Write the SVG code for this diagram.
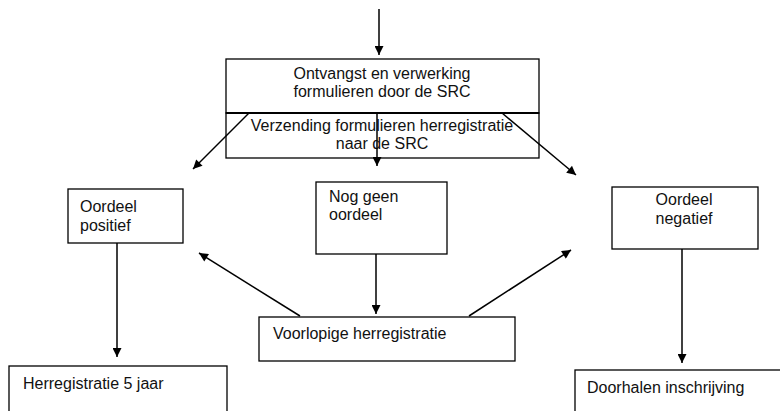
<svg xmlns="http://www.w3.org/2000/svg" width="780" height="411" viewBox="0 0 780 411">
<defs>
<marker id="ah" viewBox="0 0 10 10" refX="10" refY="5" markerWidth="11" markerHeight="9" markerUnits="userSpaceOnUse" orient="auto">
<path d="M0,0 L10,5 L0,10 Z" fill="#000"/>
</marker>
<style>
.box{fill:#fff;stroke:#000;stroke-width:1.3}
.t{font-family:"Liberation Sans",Arial,sans-serif;font-size:16px;fill:#111}
.c{text-anchor:middle}
.ln{stroke:#000;stroke-width:1.5;fill:none;marker-end:url(#ah)}
</style>
</defs>
<rect width="780" height="411" fill="#fff"/>
<g id="n-ontvangst">
<rect class="box" x="226" y="59" width="313" height="54"/>
<text class="t c" x="382" y="79">Ontvangst en verwerking</text>
<text class="t c" x="382" y="97">formulieren door de SRC</text>
</g>
<g id="n-verzending">
<rect class="box" x="226" y="113" width="313" height="45"/>
<line x1="226" y1="113" x2="539" y2="113" stroke="#000" stroke-width="2.2"/>
<text class="t c" x="382" y="131">Verzending formulieren herregistratie</text>
<text class="t c" x="382" y="149">naar de SRC</text>
</g>
<g id="n-positief">
<rect class="box" x="68" y="189" width="115" height="54"/>
<text class="t" x="80" y="212">Oordeel</text>
<text class="t" x="80" y="231">positief</text>
</g>
<g id="n-nog">
<rect class="box" x="316" y="182" width="131" height="72"/>
<text class="t" x="329" y="202">Nog geen</text>
<text class="t" x="329" y="220">oordeel</text>
</g>
<g id="n-negatief">
<rect class="box" x="612" y="187" width="146" height="62"/>
<text class="t c" x="684" y="205">Oordeel</text>
<text class="t c" x="684" y="224">negatief</text>
</g>
<g id="n-voorlopig">
<rect class="box" x="259" y="317" width="256" height="44"/>
<text class="t" x="273" y="339">Voorlopige herregistratie</text>
</g>
<g id="n-herreg5">
<rect class="box" x="9" y="366" width="218" height="60"/>
<text class="t" x="23" y="389">Herregistratie 5 jaar</text>
</g>
<g id="n-doorhalen">
<rect class="box" x="575" y="370" width="220" height="60"/>
<text class="t" x="587" y="393">Doorhalen inschrijving</text>
</g>
<g id="connectors">
<line class="ln" x1="379" y1="9" x2="379" y2="55"/>
<line class="ln" x1="249" y1="113" x2="193" y2="169"/>
<line class="ln" x1="377" y1="113" x2="377" y2="166"/>
<line class="ln" x1="502" y1="113" x2="576" y2="175"/>
<line class="ln" x1="376" y1="254" x2="376" y2="314"/>
<line class="ln" x1="300" y1="316" x2="199" y2="253"/>
<line class="ln" x1="469" y1="316" x2="571" y2="250"/>
<line class="ln" x1="117" y1="243" x2="117" y2="357"/>
<line class="ln" x1="682" y1="249" x2="682" y2="363"/>
</g>
</svg>
